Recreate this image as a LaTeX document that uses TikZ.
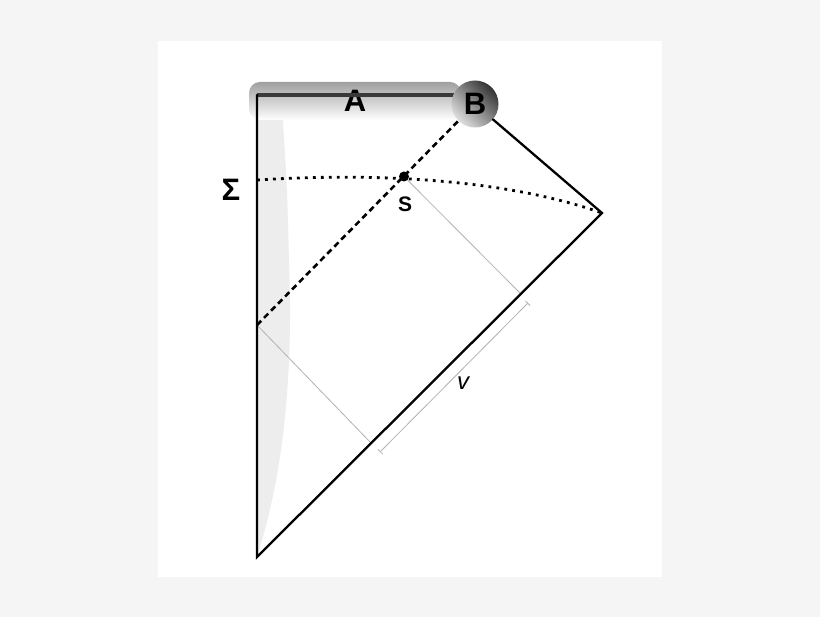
\documentclass[tikz,border=0pt]{standalone}
\usepackage{fontspec}
\setmainfont{Liberation Sans}
\usetikzlibrary{shapes.geometric, arrows.meta}

\begin{document}
\begin{tikzpicture}[x=1pt, y=-1pt]
	\tikzstyle{edge} = [line width=2.3pt, line cap=round]
	\tikzstyle{nullray} = [line width=2.6pt, dash pattern=on 6pt off 4pt]
	\tikzstyle{slice} = [line width=2.8pt, dash pattern=on 2.8pt off 5.2pt]
	\tikzstyle{guide} = [gray!60, line width=0.8pt]
	\tikzstyle{bar} = [rectangle, rounded corners=11pt, minimum width=212pt,
	minimum height=38pt, top color=gray!75, bottom color=white, inner sep=0pt,
	font=\fontsize{31}{33}\selectfont\bfseries]
	\tikzstyle{ball} = [circle, minimum size=47pt, inner sep=0pt,
	top color=black!80, bottom color=gray!25, shading angle=-45,
	font=\fontsize{31}{33}\selectfont\bfseries]
	\tikzstyle{lbl} = [inner sep=0pt, font=\fontsize{31}{33}\selectfont\bfseries]
	% canvas
	\fill[gray!8] (0,0) rectangle (820,617);
	\fill[white] (158,41) rectangle (662,577);
	\useasboundingbox (0,0) rectangle (820,617);
	% corners of the diagram
	\coordinate (top) at (257,95);
	\coordinate (bottom) at (257,557);
	\coordinate (right) at (602,213);
	\coordinate (dashStart) at (257,325);
	\coordinate (sigmaStart) at (257,180);
	\coordinate (footS) at (521,294);
	\coordinate (footD) at (371,443);
	\coordinate (vStart) at (380,452);
	\coordinate (vEnd) at (528,303);
	% shaded strip
	\fill[gray!14] (top) -- (281,95) .. controls (287,180) .. (290,300)
	.. controls (291,420) and (275,500) .. (bottom) -- cycle;
	\node (barA) at (355,101) [bar] {A};
	\draw[gray!45!black, line width=3.6pt] (top) -- (462,95);
	\node (ballB) at (475,104) [ball] {B};
	\node (pointS) at (404,176.5) [circle, fill=black, inner sep=0pt,
	minimum size=10pt] {};
	% labels
	\node (sigma) at (231,190) [lbl] {Σ};
	\node (labelS) at (405,204) [inner sep=0pt,
	font=\fontsize{21}{23}\selectfont\bfseries] {S};
	\node (labelV) at (463,383) [inner sep=0pt,
	font=\fontsize{24}{26}\selectfont\itshape] {v};
	% lines
	\draw [guide] (pointS) -- (footS);
	\draw [guide] (dashStart) -- (footD);
	\draw [guide, {Bar[width=7pt]}-{Bar[width=7pt]}] (vStart) -- (vEnd);
	\draw [slice] (sigmaStart) .. controls (400,171) and (520,184) .. (right);
	\draw [nullray] (dashStart) -- (ballB);
	\draw [edge] (top) -- (bottom) -- (right) -- (ballB);
\end{tikzpicture}
\end{document}
